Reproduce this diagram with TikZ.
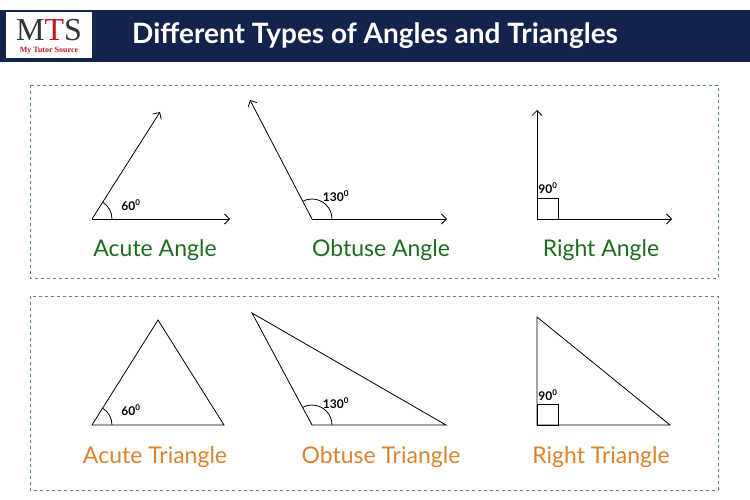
\documentclass[tikz,border=0pt]{standalone}
\usepackage{fontspec}
\setmainfont{Lato}
\newfontfamily\logofont{Liberation Serif}
\usetikzlibrary{arrows.meta}
\definecolor{navy}{HTML}{13234B}
\definecolor{boxblue}{HTML}{5A7F9E}
\definecolor{angreen}{HTML}{1F6B20}
\definecolor{triorange}{HTML}{D9832A}
\definecolor{logored}{HTML}{C0161E}
\tikzset{
  panel/.style={draw=boxblue, dashed, line width=0.8pt},
  ray/.style={-{Straight Barb[length=5pt]}, line width=0.8pt},
  side/.style={line width=0.8pt},
  anglelabel/.style={font=\bfseries\fontsize{12}{12}\selectfont},
  anglename/.style={font=\fontsize{23}{23}\selectfont, text=angreen},
  triname/.style={font=\fontsize{23}{23}\selectfont, text=triorange}
}
\newcommand{\degval}[1]{#1\textsuperscript{0}}
\begin{document}
\begin{tikzpicture}[x=1pt,y=-1pt]
  \useasboundingbox (0,0) rectangle (750,500);
  % header
  \fill[navy] (0,10) rectangle (750,62);
  \fill[white] (6,12) rectangle (92,58);
  \node[font=\logofont\fontsize{32}{32}\selectfont, text=black!80] (logo) at (49,30) {M\textcolor{logored}{T}S};
  \node[font=\logofont\bfseries\fontsize{8}{8}\selectfont, text=logored] (logosub) at (49,51) {My Tutor Source};
  \node[font=\bfseries\fontsize{28}{28}\selectfont, text=white] (title) at (375,36) {Different Types of Angles and Triangles};

  % angles
  \draw[panel] (30,85) rectangle (718,278);
  \coordinate (A) at (92,219);
  \draw[ray] (A) -- (230,219);
  \draw[ray] (A) -- (160,112);
  \draw[side] ([shift={(20,0)}]A) arc[start angle=0, end angle=-58, radius=20];
  \node[anglelabel] (a1) at (131,205) {\degval{60}};

  \coordinate (B) at (312,219);
  \draw[ray] (B) -- (447,219);
  \draw[ray] (B) -- (250,100);
  \draw[side] ([shift={(20,0)}]B) arc[start angle=0, end angle=-117, radius=20];
  \node[anglelabel] (a2) at (336,196) {\degval{130}};

  \coordinate (C) at (537,219);
  \draw[ray] (C) -- (672,219);
  \draw[ray] (C) -- (537,110);
  \draw[side] (537,198) rectangle (558,219);
  \node[anglelabel] (a3) at (548,188) {\degval{90}};

  \node[anglename] (n1) at (155,250) {Acute Angle};
  \node[anglename] (n2) at (381,250) {Obtuse Angle};
  \node[anglename] (n3) at (601,250) {Right Angle};

  % triangles
  \draw[panel] (30,296) rectangle (718,490);
  \draw[side] (92,425) -- (224,425) -- (158,320) -- cycle;
  \draw[side] (112,425) arc[start angle=0, end angle=-58, radius=20];
  \node[anglelabel] (t1) at (131,410) {\degval{60}};

  \draw[side] (252,313) -- (312,425) -- (446,425) -- cycle;
  \draw[side] (332,425) arc[start angle=0, end angle=-118, radius=20];
  \node[anglelabel] (t2) at (336,403) {\degval{130}};

  \draw[side] (537,317) -- (537,425) -- (670,425) -- cycle;
  \draw[side] (537,404) rectangle (558,425);
  \node[anglelabel] (t3) at (548,395) {\degval{90}};

  \node[triname] (m1) at (155,457) {Acute Triangle};
  \node[triname] (m2) at (381,457) {Obtuse Triangle};
  \node[triname] (m3) at (601,457) {Right Triangle};
\end{tikzpicture}
\end{document}
